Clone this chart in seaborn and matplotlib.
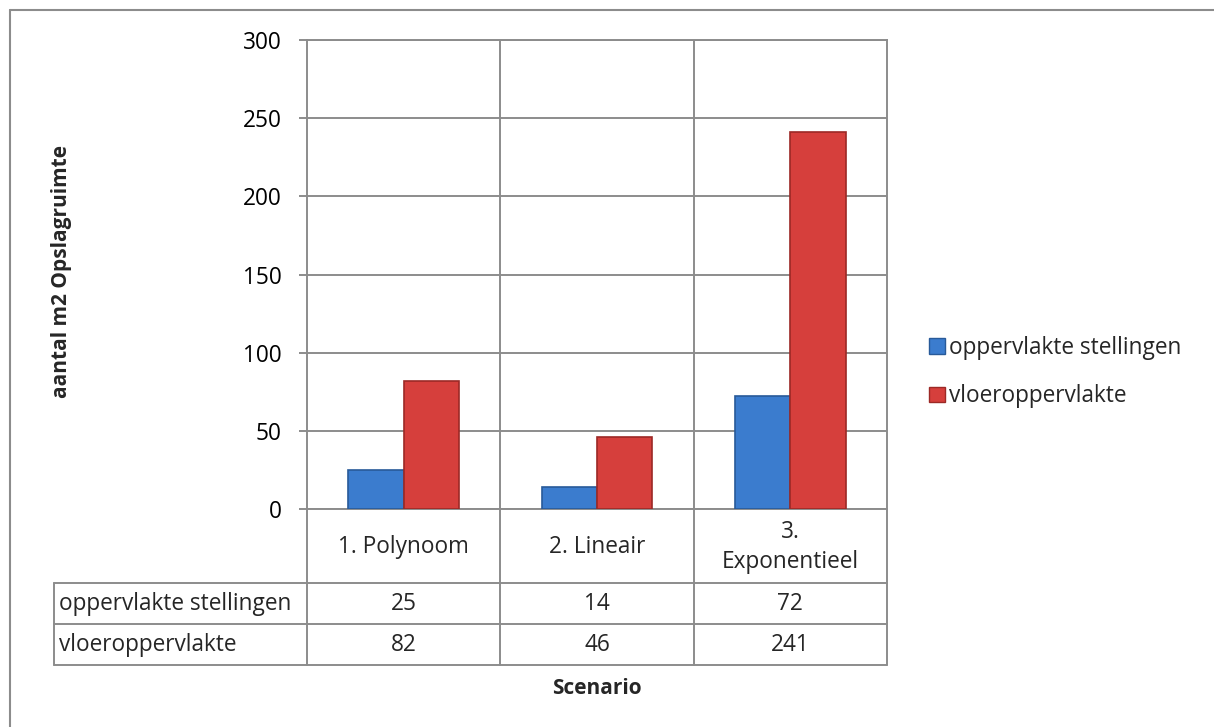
import numpy as np
import pandas as pd
import seaborn as sns
import matplotlib.pyplot as plt
from matplotlib.lines import Line2D
from matplotlib.transforms import blended_transform_factory

# data
scenarios = ['1. Polynoom', '2. Lineair', '3.\nExponentieel']
series = ['oppervlakte stellingen', 'vloeroppervlakte']
stellingen = [25, 14, 72]
vloer = [82, 46, 241]

colors = ['#3b7cce', '#d63f3c']
edges = ['#285a99', '#9c2926']
grid_c = '#8c8c8c'

df = pd.DataFrame({
    'scenario': scenarios * 2,
    'serie': [series[0]] * 3 + [series[1]] * 3,
    'waarde': stellingen + vloer,
})

sns.set_theme(style='white')
plt.rcParams['font.family'] = ['Open Sans', 'DejaVu Sans']
fs = 16.3
fs_b = 15

W, H = 1214, 727
fig = plt.figure(figsize=(W / 100, H / 100), dpi=100)
# plot area in pixels: x 307..887, y 40..509
ax = fig.add_axes([307 / W, 1 - 509 / H, 580 / W, 469 / H])

sns.barplot(data=df, x='scenario', y='waarde', hue='serie', palette=colors,
            width=0.574, ax=ax, saturation=1, legend=False, zorder=3)
for i, cont in enumerate(ax.containers):
    for p in cont:
        p.set_edgecolor(edges[i])
        p.set_linewidth(1.2)

ax.set_xlim(-0.5, 2.5)
ax.set_ylim(0, 300)
ax.set_yticks(np.arange(0, 301, 50))
ax.set_xticks([])
ax.set_xlabel('')
ax.set_ylabel('')
ax.set_axisbelow(True)
ax.yaxis.grid(True, color=grid_c, lw=1.4)
for xv in [0.5, 1.5]:
    ax.axvline(xv, color=grid_c, lw=1.4, zorder=0)
for s in ax.spines.values():
    s.set_color(grid_c)
    s.set_linewidth(1.4)
ax.tick_params(axis='y', which='major', left=True, length=5.5, width=1.4,
               color=grid_c, pad=13, labelsize=fs, labelcolor='black')

# data table below the plot
tr = blended_transform_factory(ax.transData, ax.transAxes)
def ay(px):
    return (509 - px) / 469
x_left = (54 - 307) / 580
lk = dict(color=grid_c, lw=1.4, clip_on=False)
for yp in [583, 624, 665]:
    ax.plot([x_left, 1], [ay(yp), ay(yp)], transform=ax.transAxes, **lk)
ax.plot([x_left, x_left], [ay(583), ay(665)], transform=ax.transAxes, **lk)
for xv in [-0.5, 0.5, 1.5, 2.5]:
    ax.plot([xv, xv], [0, ay(665)], transform=tr, **lk)

for i, sc in enumerate(scenarios):
    ax.text(i, ay(547), sc, transform=tr, ha='center', va='center',
            fontsize=fs, linespacing=1.35)
    ax.text(i, ay(604), str(stellingen[i]), transform=tr, ha='center',
            va='center', fontsize=fs)
    ax.text(i, ay(645), str(vloer[i]), transform=tr, ha='center',
            va='center', fontsize=fs)
x_lab = (59 - 307) / 580
ax.text(x_lab, ay(604), series[0], transform=ax.transAxes, ha='left',
        va='center', fontsize=fs)
ax.text(x_lab, ay(645), series[1], transform=ax.transAxes, ha='left',
        va='center', fontsize=fs)

ax.text(0.5, ay(688), 'Scenario', transform=ax.transAxes, ha='center',
        va='center', fontsize=fs_b, fontweight='bold')
fig.text(62 / W, 1 - 272 / H, 'aantal m2 Opslagruimte', rotation=90,
         ha='center', va='center', fontsize=fs_b, fontweight='bold')

# legend
handles = [plt.Rectangle((0, 0), 1, 1, facecolor=colors[i],
                         edgecolor=edges[i], lw=1) for i in range(2)]
fig.legend(handles, series, loc='center left',
           bbox_to_anchor=(929 / W, 1 - 372 / H), frameon=False,
           fontsize=fs, handlelength=0.7, handleheight=0.7,
           handletextpad=0.2, labelspacing=1.1, borderpad=0,
           borderaxespad=0)

# outer chart border (top and left visible)
fig.add_artist(Line2D([9.5 / W, 1], [1 - 9.5 / H] * 2, color=grid_c, lw=1.5))
fig.add_artist(Line2D([9.5 / W] * 2, [0, 1 - 9.5 / H], color=grid_c, lw=1.5))

fig.savefig('out.png', dpi=100)
